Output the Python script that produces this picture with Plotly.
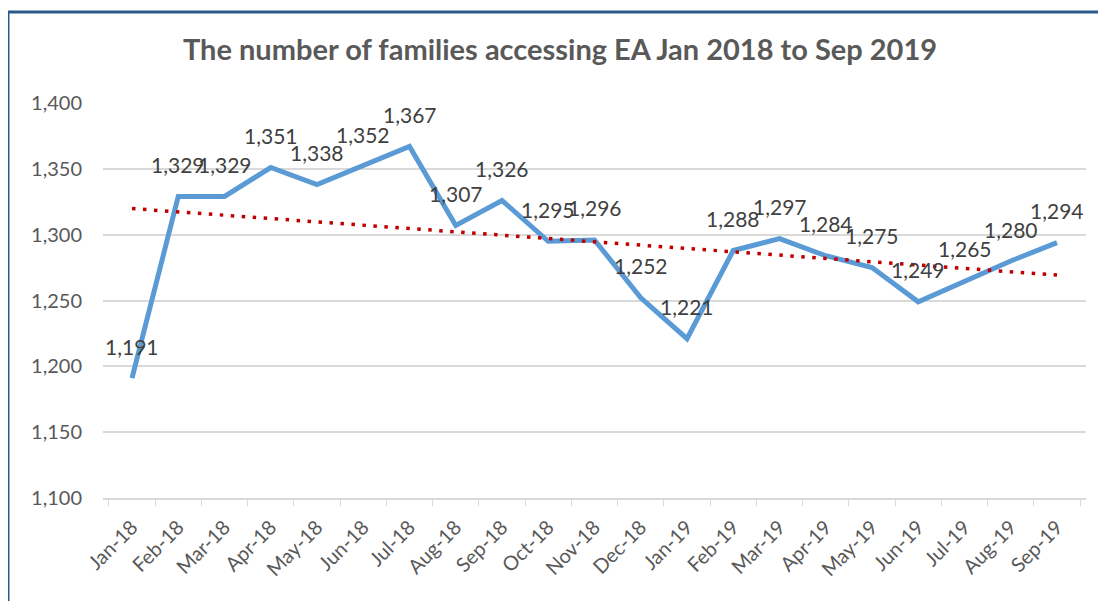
import numpy as np
import plotly.graph_objects as go

months = ["Jan-18", "Feb-18", "Mar-18", "Apr-18", "May-18", "Jun-18", "Jul-18",
          "Aug-18", "Sep-18", "Oct-18", "Nov-18", "Dec-18", "Jan-19", "Feb-19",
          "Mar-19", "Apr-19", "May-19", "Jun-19", "Jul-19", "Aug-19", "Sep-19"]
families = [1191, 1329, 1329, 1351, 1338, 1352, 1367, 1307, 1326, 1295, 1296,
            1252, 1221, 1288, 1297, 1284, 1275, 1249, 1265, 1280, 1294]
y_ticks = [1100, 1150, 1200, 1250, 1300, 1350, 1400]

# linear trendline (least squares, as in Excel)
idx = np.arange(len(families))
slope, intercept = np.polyfit(idx, families, 1)
trend = (slope * idx + intercept).tolist()

FONT = "Lato"
fig = go.Figure()
fig.add_trace(go.Scatter(
    x=months, y=families, mode="lines",
    line=dict(color="#5B9BD5", width=5), showlegend=False, hoverinfo="x+y"))
fig.add_trace(go.Scatter(
    x=months, y=trend, mode="lines",
    line=dict(color="#C00000", width=3.5, dash="3.5px,7.5px"), showlegend=False,
    hoverinfo="skip"))

for m, v in zip(months, families):
    fig.add_annotation(x=m, y=v, text=f"{v:,}", showarrow=False,
                       yanchor="middle", yshift=32,
                       font=dict(family=FONT, size=21, color="#404040"))

OFF = 8  # page body offset
W, H = 1106, 601
L, R = 103 - OFF, 20 + OFF
T, B = 103 - OFF, 103 + OFF
pw, ph = W - L - R, H - T - B
# chart border (left and top visible)
bx = (8 - OFF - L) / pw
by = (H - B - (12 - OFF)) / ph
fig.add_shape(type="line", xref="paper", yref="paper", x0=bx, x1=bx, y0=-0.5, y1=by,
              line=dict(color="#2A5A8A", width=3))
fig.add_shape(type="line", xref="paper", yref="paper", x0=bx, x1=1.2, y0=by, y1=by,
              line=dict(color="#2A5A8A", width=3))

fig.update_layout(
    width=W, height=H,
    margin=dict(l=L, r=R, t=T, b=B),
    paper_bgcolor="white", plot_bgcolor="white",
    title=dict(text="<b>The number of families accessing EA Jan 2018 to Sep 2019</b>",
               x=(560 - OFF) / W, xanchor="center", y=1 - (50 - OFF) / H, yanchor="middle",
               font=dict(family=FONT, size=29, color="#595959")),
    font=dict(family=FONT, color="#595959"),
)
fig.update_xaxes(type="category", tickangle=-45, tickson="boundaries",
                 ticks="outside", ticklen=6, tickcolor="#D9D9D9",
                 showline=True, linecolor="#D9D9D9", linewidth=1.5,
                 ticklabelstandoff=8,
                 showgrid=False, tickfont=dict(family=FONT, size=20, color="#595959"))
fig.update_yaxes(range=[1100, 1400], tickvals=y_ticks, tickformat=",",
                 showgrid=True, gridcolor="#D9D9D9", gridwidth=1.5,
                 zeroline=False, showline=False, ticks="",
                 ticklabelstandoff=20,
                 tickfont=dict(family=FONT, size=20, color="#595959"))

fig.write_html("out.html")
